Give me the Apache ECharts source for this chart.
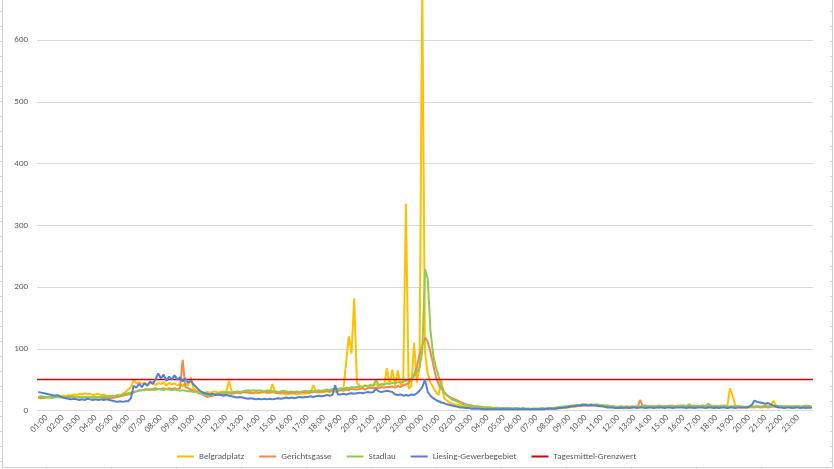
<!DOCTYPE html>
<html><head><meta charset="utf-8">
<script src="https://cdn.jsdelivr.net/npm/echarts@6/dist/echarts.min.js"></script>
<style>html,body{margin:0;padding:0;background:#fff}#c{width:834px;height:469px}</style>
</head><body><div id="c"></div>
<script>
// 10-minute values, starting 00:30 (day 1) to 23:50 (day 2)
const belgradplatz = [20,21,20,
21,22,20,23,22,24, 24,23,25,24,26,25, 27,26,28,26,27,25, 26,27,25,26,24,23,
22,23,24,25,27,30, 34,38,50,44,46,43, 45,42,44,46,41,44, 43,46,40,45,42,44,
41,43,39,45,40,54, 36,33,31,30,29,30, 29,30,31,29,30,31, 30,48,31,30,29,30,
30,29,31,30,28,29, 28,29,30,28,29,43, 29,28,27,28,26,27, 27,28,26,27,28,27,
28,29,41,29,30,29, 30,31,29,32,30,31, 33,34,75,120,92,182, 45,40,38,41,39,42,
40,43,39,42,41,68, 42,66,40,65,42,40, 335,35,40,110,45,70,
690,95,60,45,38,30, 25,50,20,16,13,11, 10,9,8,7,6,6, 5,5,4,4,4,4,
4,3,3,3,3,3, 3,3,3,2,3,3, 2,3,2,2,2,3, 2,2,3,2,3,3,
3,3,3,4,4,5, 5,6,6,7,7,8, 8,9,8,9,9,8, 8,7,8,7,7,6,
6,5,6,7,6,5, 6,7,6,8,6,7, 6,7,6,5,7,6, 6,7,8,6,7,6,
7,6,8,7,6,7, 7,8,6,7,6,7, 6,7,8,7,6,36, 24,7,6,7,6,5,
6,5,6,7,6,5, 6,7,8,16,7,6, 6,5,6,7,6,5, 6,5,6,5,6,5];

const gerichtsgasse = [21,20,21,
21,22,21,22,23,22, 22,21,22,23,22,21, 22,21,22,21,22,21, 21,22,21,20,21,20,
20,21,22,23,24,25, 26,27,29,31,33,33, 34,35,34,35,36,35, 35,36,35,36,35,36,
35,36,82,38,36,34, 32,30,28,27,24,22, 23,24,25,26,27,26, 27,28,27,28,29,28,
29,30,29,28,29,30, 29,30,31,30,29,30, 29,28,29,30,29,28, 29,28,29,30,29,30,
30,29,30,31,30,31, 31,32,31,32,33,32, 33,32,34,33,35,34, 34,35,36,34,36,37,
36,37,36,38,37,38, 38,39,37,40,38,41, 42,45,50,58,70,90,
105,118,112,95,75,55, 42,35,30,25,22,20, 18,16,14,12,10,9, 8,7,7,6,6,5,
5,5,4,4,4,4, 4,3,4,3,3,3, 3,3,3,3,2,3, 3,3,3,3,3,4,
4,4,5,5,6,6, 7,7,8,8,8,8, 8,9,8,9,8,8, 7,7,6,6,5,5,
5,4,5,6,5,5, 6,5,17,7,6,5, 6,7,6,7,6,7, 7,6,7,6,8,7,
6,7,6,5,6,7, 7,6,7,6,7,6, 7,6,7,6,5,6, 6,7,6,5,6,5,
5,6,5,6,5,6, 6,5,6,7,6,7, 6,7,6,5,6,7, 7,6,7,6,7,6];

const stadlau = [22,23,22,
22,21,22,21,22,21, 21,22,20,21,22,21, 22,21,22,21,22,21, 22,21,22,23,22,23,
24,23,25,24,26,27, 28,29,30,31,32,33, 33,34,33,34,33,35, 34,33,35,34,33,34,
33,32,33,32,31,31, 30,30,29,28,26,25, 25,26,27,27,28,29, 29,30,29,30,31,30,
31,32,33,32,33,32, 33,32,31,33,32,31, 31,30,31,32,31,30, 31,30,31,30,31,32,
31,32,31,32,33,32, 33,34,33,35,34,35, 36,35,37,36,38,37, 38,39,38,40,39,41,
40,50,41,43,42,44, 43,45,44,46,45,47, 48,50,52,56,62,70,
95,229,213,130,90,70, 55,40,30,25,21,18, 16,14,12,10,9,8, 7,6,6,5,5,5,
5,5,4,5,4,4, 4,4,4,3,4,4, 3,4,3,3,3,3, 3,3,4,3,4,4,
4,5,5,6,6,7, 7,8,8,9,9,10, 10,9,10,9,10,9, 9,8,8,7,7,6,
6,7,6,5,6,7, 6,7,6,7,8,7, 7,6,7,8,7,6, 7,8,7,6,7,8,
8,7,10,7,8,7, 7,8,7,11,8,7, 7,6,7,8,7,6, 7,6,7,6,5,6,
6,7,6,7,6,7, 8,7,6,7,8,7, 7,6,7,6,7,6, 7,6,7,8,7,6];

const liesing = [30,29,28,
27,26,25,24,25,23, 21,20,19,18,19,18, 17,18,17,19,18,17, 18,17,18,17,18,17,
16,15,14,15,14,15, 15,20,40,37,43,38, 44,40,47,43,50,60, 52,58,48,55,50,57,
50,54,47,52,45,48, 42,38,33,30,28,27, 26,27,25,26,25,24, 25,24,23,22,21,22,
21,20,19,20,19,18, 19,18,19,18,19,18, 19,20,19,20,21,20, 21,20,21,22,21,22,
22,23,22,23,24,23, 24,25,24,25,41,26, 26,27,26,27,28,27, 28,29,28,29,30,29,
30,35,31,30,31,32, 31,30,26,25,26,24, 25,24,26,25,28,32,
38,50,30,24,20,17, 15,13,12,10,9,8, 7,6,5,5,4,4, 3,3,3,3,2,2,
2,2,2,2,2,2, 2,2,2,2,2,2, 2,2,2,2,2,2, 2,2,2,2,3,3,
3,3,4,4,5,5, 6,7,7,8,8,9, 9,8,9,8,8,7, 7,6,5,5,5,4,
4,5,4,5,4,5, 5,4,5,5,4,5, 5,4,5,5,5,4, 5,5,4,5,5,5,
5,4,5,5,4,5, 5,5,4,5,5,4, 5,4,5,5,4,5, 5,4,5,5,5,5,
6,9,16,14,13,12, 11,12,10,8,6,5, 5,4,5,5,4,5, 5,4,5,4,5,4];

const grenzwert = 50;
const seriesNames = ['Belgradplatz','Gerichtsgasse','Stadlau','Liesing-Gewerbegebiet','Tagesmittel-Grenzwert'];
const seriesColors = ['#FFC000','#F08A4B','#8FCB4F','#5580D0','#E00000'];
const startMinute = 30, stepMinutes = 10;

const categories = belgradplatz.map((_, i) => {
  const m = startMinute + i * stepMinutes;
  const h = Math.floor(m / 60) % 24, mm = m % 60;
  return String(h).padStart(2,'0') + ':' + String(mm).padStart(2,'0');
});

const FONT = 'Carlito, Lato, sans-serif';
const chart = echarts.init(document.getElementById('c'), null, {renderer:'canvas'});

function lineSeries(i, data) {
  return {name: seriesNames[i], type:'line', data, symbol:'none', showSymbol:false,
    itemStyle:{color: seriesColors[i]}, lineStyle:{color: seriesColors[i], width:2},
    animation:false, z: 2 + i};
}

// frame (worksheet edge)
const frame = [];
const fc = '#d0d0d0';
frame.push({type:'line', shape:{x1:2.5,y1:0,x2:2.5,y2:467.5}, style:{stroke:fc,lineWidth:1}, silent:true});
frame.push({type:'line', shape:{x1:832.5,y1:0,x2:832.5,y2:467.5}, style:{stroke:fc,lineWidth:1}, silent:true});
frame.push({type:'line', shape:{x1:2,y1:467.5,x2:833,y2:467.5}, style:{stroke:fc,lineWidth:1}, silent:true});
for (let y = 11; y < 467; y += 15) {
  frame.push({type:'line', shape:{x1:0,y1:y+0.5,x2:2,y2:y+0.5}, style:{stroke:fc,lineWidth:1}, silent:true});
  frame.push({type:'line', shape:{x1:830,y1:y+0.5,x2:832,y2:y+0.5}, style:{stroke:fc,lineWidth:1}, silent:true});
}
for (let x = 46; x < 834; x += 65) {
  frame.push({type:'line', shape:{x1:x+0.5,y1:467,x2:x+0.5,y2:469}, style:{stroke:fc,lineWidth:1}, silent:true});
}

chart.setOption({
  animation:false,
  backgroundColor:'#fff',
  textStyle:{fontFamily:FONT},
  grid:{left:37, right:21, top:-21.5, bottom:58.5, containLabel:false, outerBoundsMode:'none'},
  legend:{data:seriesNames, left:172, top:447, icon:'rect', itemWidth:17, itemHeight:2, itemGap:15,
    textStyle:{fontFamily:FONT, fontSize:9, color:'#595959'}},
  xAxis:{type:'category', data:categories, boundaryGap:true,
    axisLine:{show:false}, axisTick:{show:false},
    axisLabel:{rotate:45, interval:(idx, val) => val.endsWith(':00'), fontSize:9, color:'#595959', margin:6, fontFamily:FONT},
    splitLine:{show:false}},
  yAxis:{type:'value', min:0, max:700, interval:100,
    axisLine:{show:false}, axisTick:{show:false},
    axisLabel:{fontSize:9, color:'#595959', margin:9, fontFamily:FONT},
    splitLine:{lineStyle:{color:'#d9d9d9', width:1}}},
  series:[
    lineSeries(0, belgradplatz),
    lineSeries(1, gerichtsgasse),
    lineSeries(2, stadlau),
    lineSeries(3, liesing),
    {name:seriesNames[4], type:'line', data:[], symbol:'none', itemStyle:{color:seriesColors[4]},
     lineStyle:{color:seriesColors[4], width:1.3}, z:10,
     markLine:{silent:true, symbol:'none', animation:false, label:{show:false},
       lineStyle:{color:seriesColors[4], width:1.3, type:'solid'}, data:[{yAxis:grenzwert}]}}
  ],
  graphic: frame
});
</script>
</body></html>
